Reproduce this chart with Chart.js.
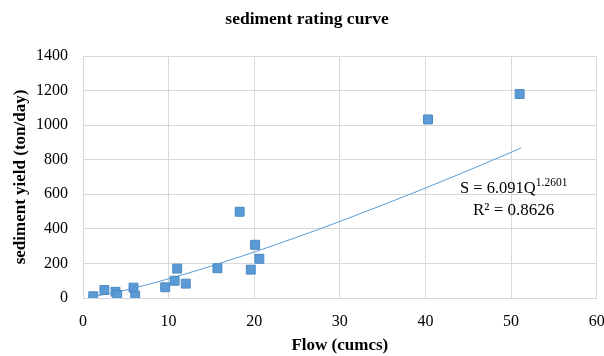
<!DOCTYPE html>
<html>
<head>
<meta charset="utf-8">
<script src="https://cdn.jsdelivr.net/npm/chart.js@4"></script>
<style>
  html, body { margin: 0; padding: 0; background: #fff; }
  #container { width: 604px; height: 356px; }
</style>
</head>
<body>
<div id="container"><canvas id="myChart" width="604" height="356"></canvas></div>
<script>
// observed points, flow (cumcs) vs sediment yield (ton/day)
const flow = [1.2, 2.5, 3.8, 4.0, 5.9, 6.1, 9.6, 10.7, 11.0, 12.0, 15.7, 18.3, 19.6, 20.1, 20.6, 40.3, 51.0]
const sediment = [10, 46, 36, 17, 60, 13, 62, 100, 170, 83, 172, 499, 164, 308, 227, 1033, 1180]

// power trendline
const trendFlow = [1.2, 5, 10, 15, 20, 25, 30, 35, 40, 45, 51.2]
const trendSediment = [8, 46, 111, 185, 266, 352, 443, 538, 636, 738, 868]

const xTicks = [0, 10, 20, 30, 40, 50, 60]
const yTicks = [0, 200, 400, 600, 800, 1000, 1200, 1400]

const equationText = 'S = 6.091Q'
const exponentText = '1.2601'
const r2Text = 'R² = 0.8626'

const serif = "'Liberation Serif', 'Times New Roman', serif"

const equationLabel = {
    id: 'equationLabel',
    afterDraw(chart) {
        const ctx = chart.ctx
        ctx.save()
        ctx.fillStyle = '#000'
        ctx.textBaseline = 'alphabetic'
        ctx.font = '16.5px ' + serif
        ctx.fillText(equationText, 460, 193)
        const w = ctx.measureText(equationText).width
        ctx.font = '11.5px ' + serif
        ctx.fillText(exponentText, 460 + w, 186)
        ctx.font = '17px ' + serif
        ctx.fillText(r2Text, 473, 215)
        ctx.restore()
    }
}

const renderChart = (myChart) => {
    new Chart(myChart, {
        type: 'scatter',
        data: {
            datasets: [
                {
                    label: 'observed',
                    data: flow.map((q, i) => ({ x: q, y: sediment[i] })),
                    pointStyle: 'rect',
                    pointRadius: 6.3,
                    backgroundColor: '#5b9bd5',
                    borderColor: '#4a89c4',
                    borderWidth: 1,
                    order: 1
                },
                {
                    label: 'trend',
                    type: 'line',
                    data: trendFlow.map((q, i) => ({ x: q, y: trendSediment[i] })),
                    borderColor: '#5b9bd5',
                    borderWidth: 1,
                    pointRadius: 0,
                    fill: false,
                    cubicInterpolationMode: 'monotone',
                    order: 2
                }
            ]
        },
        options: {
            responsive: false,
            animation: false,
            layout: { padding: { left: 10, right: 0, top: 0, bottom: 0 } },
            plugins: {
                legend: { display: false },
                tooltip: { enabled: false },
                title: {
                    display: true,
                    text: 'sediment rating curve',
                    color: '#000',
                    font: { family: serif, size: 17.5, weight: 'bold' },
                    padding: { top: 9, bottom: 26 }
                }
            },
            scales: {
                x: {
                    type: 'linear',
                    min: 0,
                    max: 60,
                    afterBuildTicks: (scale) => { scale.ticks = xTicks.map(v => ({ value: v })) },
                    afterFit: (scale) => { scale.paddingLeft = 0; scale.paddingRight = 7; scale.height = 58 },
                    grid: { color: '#d9d9d9', drawTicks: false },
                    border: { color: '#d0d6e2' },
                    ticks: { color: '#000', padding: 14, font: { family: serif, size: 16 }, callback: (v) => String(v) },
                    title: {
                        display: true,
                        text: 'Flow (cumcs)',
                        color: '#000',
                        font: { family: serif, size: 17, weight: 'bold' },
                        padding: { top: 0, bottom: 0 }
                    }
                },
                y: {
                    min: 0,
                    max: 1400,
                    afterBuildTicks: (scale) => { scale.ticks = yTicks.map(v => ({ value: v })) },
                    afterFit: (scale) => { scale.width = 73 },
                    grid: { color: '#d9d9d9', drawTicks: false },
                    border: { color: '#d0d6e2' },
                    ticks: { color: '#000', padding: 15, font: { family: serif, size: 16 }, callback: (v) => String(v) },
                    title: {
                        display: true,
                        text: 'sediment yield (ton/day)',
                        color: '#000',
                        font: { family: serif, size: 17, weight: 'bold' },
                        padding: { top: 0, bottom: 0 }
                    }
                }
            }
        },
        plugins: [equationLabel]
    })
}

var myChart = document.getElementById('myChart').getContext('2d')
renderChart(myChart)
</script>
</body>
</html>
